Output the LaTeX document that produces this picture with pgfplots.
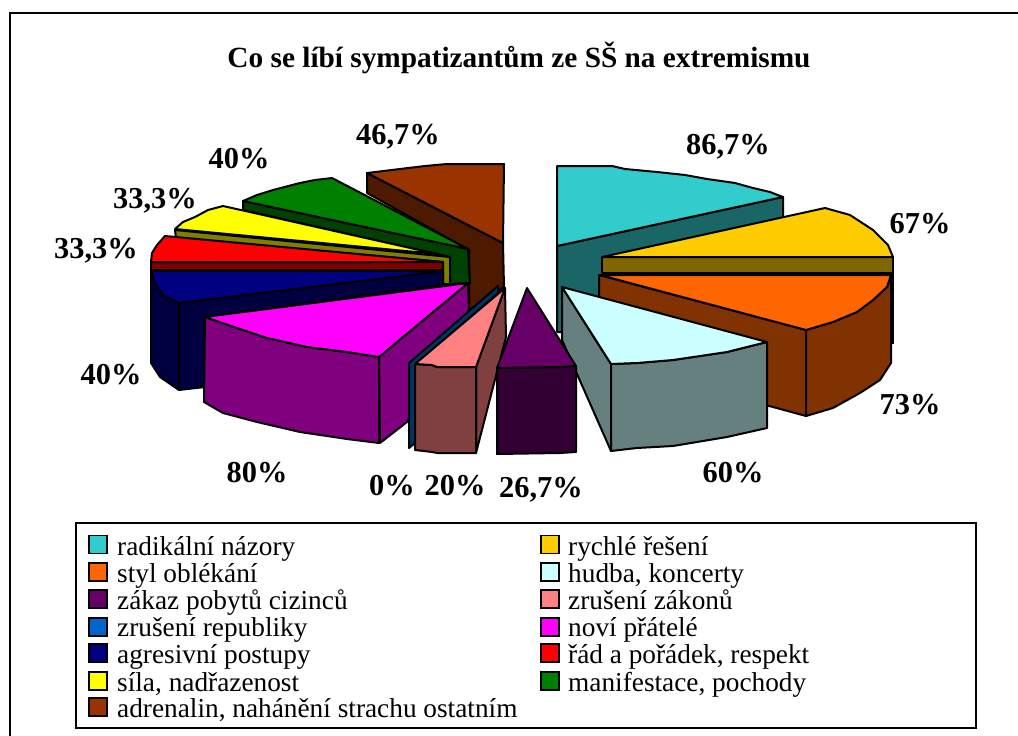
\documentclass[border=0pt]{standalone}
\usepackage{fontspec}
\setmainfont{Liberation Serif}
\usepackage{pgfplots}
\pgfplotsset{compat=1.18}
\definecolor{cTeal}{HTML}{33CCCC}\definecolor{dTeal}{HTML}{1A6666}
\definecolor{cGold}{HTML}{FFCC00}\definecolor{dGold}{HTML}{806600}
\definecolor{cOrange}{HTML}{FF6600}\definecolor{dOrange}{HTML}{803300}
\definecolor{cIce}{HTML}{CCFFFF}\definecolor{dIce}{HTML}{668080}
\definecolor{cPlum}{HTML}{660066}\definecolor{dPlum}{HTML}{330033}
\definecolor{cPink}{HTML}{FF8080}\definecolor{dPink}{HTML}{804040}
\definecolor{cBlue}{HTML}{0066CC}\definecolor{dBlue}{HTML}{003366}
\definecolor{cMag}{HTML}{FF00FF}\definecolor{dMag}{HTML}{800080}
\definecolor{cNavy}{HTML}{000080}\definecolor{dNavy}{HTML}{000040}
\definecolor{cRed}{HTML}{FF0000}\definecolor{dRed}{HTML}{800000}
\definecolor{cYel}{HTML}{FFFF00}\definecolor{dYel}{HTML}{808000}
\definecolor{cGreen}{HTML}{008000}\definecolor{dGreen}{HTML}{004000}
\definecolor{cBrown}{HTML}{993300}\definecolor{dBrown}{HTML}{4D1A00}
\newcommand\poly[2]{\addplot[fill=#1,draw=black,line width=2pt,sharp plot,no markers,line join=round,forget plot] coordinates {#2} --cycle;}
\newcommand\swatch[3]{\addplot[fill=#1,draw=black,line width=1.5pt,sharp plot,no markers,forget plot] coordinates {(#2,#3-9) (#2+18,#3-9) (#2+18,#3+9) (#2,#3+9)} --cycle;}
\newcommand\pct[3]{\node[anchor=base,inner sep=0pt,font=\fontsize{30.4}{30}\selectfont\bfseries] at (axis cs:#1,#2) {#3};}
\newcommand\leg[3]{\node[anchor=base west,inner sep=0pt,font=\fontsize{27.3}{27}\selectfont] at (axis cs:#1,#2) {#3};}
\begin{document}
\begin{tikzpicture}
\begin{axis}[scale only axis,width=1018pt,height=736pt,xmin=0,xmax=1018,ymin=0,ymax=736,y dir=reverse,axis lines=none,clip=true]
\addplot[draw=none,forget plot] coordinates {(0,0) (1018,736)};
\addplot[draw=black,line width=2.6pt,sharp plot,no markers,forget plot] coordinates {(1030,13) (10,13) (10,750)};
% teal
\poly{dTeal}{(557,246) (783,197) (783,230) (600,300) (561,332) (557,332)}
\poly{cTeal}{(557,166) (612,166) (625,169) (657,172) (685,175) (707,179) (735,183) (753,188) (770,192) (783,197) (557,246)}
% brown
\poly{dBrown}{(367,173) (503,243) (504,287) (469,310) (469,250) (367,193)}
\poly{cBrown}{(367,173) (400,169) (425,166) (447,164) (504,164) (503,243)}
% green
\poly{dGreen}{(243,201) (468,249) (470,283) (450,284) (450,257) (243,210)}
\poly{cGreen}{(468,249) (332,178) (315,180) (300,183) (273,190) (257,195) (243,201)}
% yellow
\poly{dYel}{(175,230) (450,257) (450,284) (443,284) (443,262) (176,238)}
\poly{cYel}{(175,229) (183,222) (195,217) (208,210) (223,206) (437,254)}
% red
\poly{dRed}{(151,262) (443,262) (443,270) (151,270)}
\poly{cRed}{(443,262) (151,262) (152,253) (157,245) (165,236)}
% navy
\poly{dNavy}{(151,271) (163,295) (179,303) (179,390) (160,377) (151,363)}
\poly{dNavy}{(443,271) (179,303) (179,390) (205,387) (205,317) (443,285)}
\poly{cNavy}{(443,271) (179,303) (163,295) (155,283) (151,271)}
% gold
\addplot[fill=dOrange,draw=black,line width=2pt,forget plot,sharp plot,no markers] coordinates {(893,257) (893,343) (880,343) (880,257)} --cycle;
\poly{dGold}{(602,257) (893,257) (893,273) (602,273)}
\poly{cGold}{(602,257) (825,208) (850,215) (873,230) (888,245) (893,257)}
% orange
\poly{dOrange}{(599,275) (806,330) (806,416) (600,360)}
\poly{dOrange}{(806,330) (833,322) (857,312) (873,300) (887,287) (891,275) (891,363) (880,380) (860,393) (833,408) (806,416)}
\poly{cOrange}{(600,275) (891,275) (887,287) (873,300) (857,312) (833,322) (806,330)}
% ice
\poly{dIce}{(562,287) (611,364) (611,451) (562,340)}
\poly{dIce}{(611,364) (637,363) (673,360) (727,352) (767,342) (767,428) (727,437) (673,446) (637,448) (611,451)}
\poly{cIce}{(562,287) (767,342) (727,352) (673,360) (637,363) (611,364)}
% magenta
\poly{dMag}{(468,283) (469,310) (407,422) (380,443) (379,357)}
\poly{dMag}{(205,317) (237,328) (267,338) (307,347) (347,352) (379,357) (379,443) (347,439) (300,432) (257,422) (223,413) (204,402)}
\poly{cMag}{(468,283) (379,357) (347,352) (307,347) (267,338) (237,328) (205,317)}
% blue
\poly{dBlue}{(409,363) (498,286) (498,293) (415,365) (415,443) (409,448)}
% pink
\poly{dPink}{(505,288) (506,337) (476,453) (476,367)}
\poly{dPink}{(415,364) (432,365) (437,367) (476,367) (476,453) (437,453) (432,452) (415,450)}
\poly{cPink}{(505,288) (476,367) (437,367) (432,365) (415,364)}
% plum
\poly{dPlum}{(497,368) (560,367) (576,366) (576,452) (560,453) (497,454)}
\poly{cPlum}{(527,288) (576,366) (560,367) (497,368)}
% legend box
\addplot[fill=white,draw=black,line width=1.8pt,sharp plot,no markers,forget plot] coordinates {(76,523) (976,523) (976,728) (76,728)} --cycle;
\swatch{cTeal}{89}{544.3}
\swatch{cOrange}{89}{572}
\swatch{cPlum}{89}{599}
\swatch{cBlue}{89}{627}
\swatch{cNavy}{89}{653}
\swatch{cYel}{89}{681}
\swatch{cBrown}{89}{707}
\swatch{cGold}{541}{544.3}
\swatch{cIce}{541}{572}
\swatch{cPink}{541}{599}
\swatch{cMag}{541}{627}
\swatch{cRed}{541}{653}
\swatch{cGreen}{541}{681}
\leg{117}{555}{radikální názory}
\leg{117}{582.5}{styl oblékání}
\leg{117}{609}{zákaz pobytů cizinců}
\leg{117}{636.7}{zrušení republiky}
\leg{117}{663}{agresivní postupy}
\leg{117}{691}{síla, nadřazenost}
\leg{117}{717}{adrenalin, nahánění strachu ostatním}
\leg{568}{555}{rychlé řešení}
\leg{568}{582.5}{hudba, koncerty}
\leg{568}{609}{zrušení zákonů}
\leg{568}{636.7}{noví přátelé}
\leg{568}{663}{řád a pořádek, respekt}
\leg{568}{691}{manifestace, pochody}
% title
\node[anchor=base,inner sep=0pt,font=\fontsize{29.3}{29}\selectfont\bfseries] at (axis cs:519,67) {Co se líbí sympatizantům ze SŠ na extremismu};
% labels
\pct{728}{154}{86,7\%}
\pct{920}{233}{67\%}
\pct{910}{414}{73\%}
\pct{733}{482}{60\%}
\pct{541}{497}{26,7\%}
\pct{455}{495}{20\%}
\pct{392}{495}{0\%}
\pct{257}{482}{80\%}
\pct{111}{384}{40\%}
\pct{96}{258}{33,3\%}
\pct{155}{208}{33,3\%}
\pct{239}{168}{40\%}
\pct{398}{144}{46,7\%}
\end{axis}
\end{tikzpicture}
\end{document}
